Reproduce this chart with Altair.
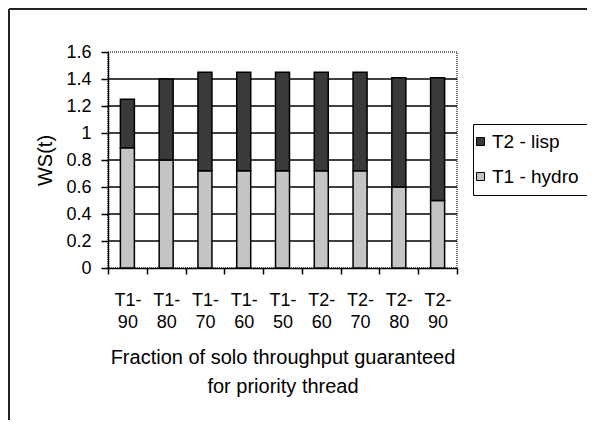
import altair as alt
import pandas as pd

categories = ["T1-90", "T1-80", "T1-70", "T1-60", "T1-50", "T2-60", "T2-70", "T2-80", "T2-90"]
t1_hydro = [0.89, 0.80, 0.72, 0.72, 0.72, 0.72, 0.72, 0.60, 0.50]
t2_lisp = [0.36, 0.60, 0.73, 0.73, 0.73, 0.73, 0.73, 0.81, 0.91]
series = ["T2 - lisp", "T1 - hydro"]
series_colors = ["#3a3a3a", "#c4c4c4"]
y_ticks = [0, 0.2, 0.4, 0.6, 0.8, 1.0, 1.2, 1.4, 1.6]
grid_values = [0.2, 0.4, 0.6, 0.8, 1.0, 1.2, 1.4]

rows = []
for c, a, b in zip(categories, t1_hydro, t2_lisp):
    rows.append({"cat": c, "series": "T1 - hydro", "value": a, "ord": 0})
    rows.append({"cat": c, "series": "T2 - lisp", "value": b, "ord": 1})
df = pd.DataFrame(rows)
grid_df = pd.DataFrame({"g": grid_values})
frame_df = pd.DataFrame({"k": [0]})

FONT = "Liberation Sans"

y_axis = alt.Axis(
    values=y_ticks,
    format="~g",
    grid=False,
    title="WS(t)",
    tickSize=7,
    labelPadding=10,
    titlePadding=10,
)
y_scale = alt.Scale(domain=[0, 1.6], nice=False)

grid = alt.Chart(grid_df).mark_rule(color="black", strokeWidth=1.5).encode(
    y=alt.Y("g:Q", scale=y_scale, axis=y_axis, title="WS(t)")
)

bars = alt.Chart(df).mark_bar(size=14, stroke="black", strokeWidth=1.5).encode(
    x=alt.X(
        "cat:N",
        sort=categories,
        scale=alt.Scale(paddingInner=0, paddingOuter=0),
        axis=alt.Axis(
            title=["Fraction of solo throughput guaranteed", "for priority thread"],
            labelExpr="[slice(datum.label, 0, 3), slice(datum.label, 3)]",
            labelAngle=0,
            tickBand="extent",
            tickSize=6,
            labelPadding=17,
            labelLineHeight=22,
            titleLineHeight=29,
            titlePadding=16,
        ),
    ),
    y=alt.Y("value:Q", stack="zero", scale=y_scale, axis=y_axis, title="WS(t)"),
    color=alt.Color(
        "series:N",
        scale=alt.Scale(domain=series, range=series_colors),
        legend=alt.Legend(
            title=None,
            orient="none",
            legendX=365,
            legendY=72,
            symbolType="square",
            symbolSize=64,
            symbolStrokeColor="black",
            symbolStrokeWidth=1,
            symbolOffset=-10,
            labelFontSize=19,
            labelFont=FONT,
            labelColor="black",
            labelOffset=2,
            rowPadding=15,
            padding=8,
            strokeColor="black",
            fillColor="white",
        ),
    ),
    order=alt.Order("ord:Q"),
)

frame_left = alt.Chart(frame_df).mark_rule(color="#222", strokeWidth=2).encode(
    x=alt.value(-99), y=alt.value(-43), y2=alt.value(368)
)
frame_top = alt.Chart(frame_df).mark_rule(color="#222", strokeWidth=2).encode(
    x=alt.value(-99), x2=alt.value(479), y=alt.value(-43)
)

chart = (
    alt.layer(grid, bars, frame_left, frame_top)
    .properties(
        width=349,
        height=216,
        padding={"left": 100, "top": 44, "right": 130, "bottom": 152},
        autosize=alt.AutoSizeParams(type="none"),
        background="white",
    )
    .configure_view(stroke="#444", strokeDash=[1, 1], strokeWidth=1.5)
    .configure_axis(
        labelFont=FONT,
        labelFontSize=18,
        labelColor="black",
        titleFont=FONT,
        titleFontSize=20,
        titleFontWeight="normal",
        titleColor="black",
        domainColor="black",
        domainWidth=1.5,
        tickColor="black",
        tickWidth=1.5,
    )
)

chart.save("out.html", embed_options={"renderer": "svg", "actions": False})
